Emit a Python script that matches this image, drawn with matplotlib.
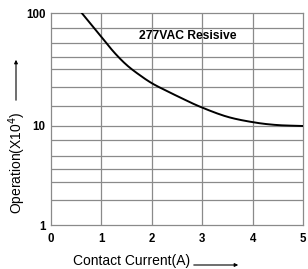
import numpy as np
import matplotlib
matplotlib.use("Agg")
import matplotlib.pyplot as plt
from matplotlib.patches import FancyArrowPatch
from matplotlib.ticker import FixedLocator, NullFormatter

plt.rcParams['font.family'] = ['Liberation Sans', 'DejaVu Sans']

# Curve (current in A, operations x10^4)
current = [0.61, 0.97, 1.24, 1.50, 1.77, 2.03, 2.36, 2.56, 2.96, 3.49, 4.01, 4.48, 5.0]
operations = [100, 63.9, 45.5, 34.7, 28.0, 23.5, 19.8, 17.9, 14.8, 12.1, 10.8, 10.2, 10.0]

x_ticks = [0, 1, 2, 3, 4, 5]
y_ticks = [1, 10, 100]
y_tick_labels = ["1", "10", "100"]
# horizontal grid lines of the scanned chart (not evenly log spaced)
y_grid = [1.8, 2.7, 3.7, 5.0, 7.2, 15, 22, 32, 41, 54, 74]

# the drawn upper decade is a bit taller than the lower one
STRETCH = 113 / 99


def fwd(y):
    t = np.log10(np.maximum(y, 1e-10))
    return np.where(t >= 1, 1 + (t - 1) * STRETCH, t)


def inv(u):
    u = np.asarray(u, dtype=float)
    return np.where(u >= 1, 10 ** (1 + (u - 1) / STRETCH), 10 ** u)


def catmull_rom(px, py, n=20):
    # smooth curve through the read points
    px = np.asarray(px, float)
    py = np.asarray(py, float)
    px = np.concatenate([[2 * px[0] - px[1]], px, [2 * px[-1] - px[-2]]])
    py = np.concatenate([[2 * py[0] - py[1]], py, [2 * py[-1] - py[-2]]])
    out_x, out_y = [], []
    t = np.linspace(0, 1, n, endpoint=False)
    for i in range(1, len(px) - 2):
        for arr, out in ((px, out_x), (py, out_y)):
            p0, p1, p2, p3 = arr[i - 1:i + 3]
            out.extend(0.5 * (2 * p1 + (-p0 + p2) * t
                              + (2 * p0 - 5 * p1 + 4 * p2 - p3) * t ** 2
                              + (-p0 + 3 * p1 - 3 * p2 + p3) * t ** 3))
    out_x.append(px[-2])
    out_y.append(py[-2])
    return np.array(out_x), np.array(out_y)


fig = plt.figure(figsize=(3.08, 2.69), dpi=100)
ax = fig.add_axes([51 / 308, 1 - 225 / 269, 252 / 308, 212 / 269])

ax.set_yscale('function', functions=(fwd, inv))
ax.set_xlim(0, 5)
ax.set_ylim(1, 100)

grid_kw = dict(color='#8a8a8a', lw=0.9, zorder=1)
for x in x_ticks[1:-1]:
    ax.axvline(x, **grid_kw)
for y in y_grid + [10]:
    ax.axhline(y, **grid_kw)

for s in ax.spines.values():
    s.set_color('#8a8a8a')
    s.set_linewidth(0.9)

xs, ly = catmull_rom(current, np.log10(operations))
ax.plot(xs, 10 ** ly, color='black', lw=1.4, zorder=3)

ax.set_xticks(x_ticks)
ax.set_xticklabels([str(v) for v in x_ticks], fontsize=8.3, fontweight='bold')
ax.yaxis.set_major_locator(FixedLocator(y_ticks))
ax.yaxis.set_minor_locator(FixedLocator([]))
ax.yaxis.set_minor_formatter(NullFormatter())
ax.set_yticklabels(y_tick_labels, fontsize=8.3, fontweight='bold')
ax.tick_params(axis='both', length=0)
ax.tick_params(axis='y', pad=4)
ax.tick_params(axis='x', pad=6)

ax.text(1.75, 62, "277VAC Resisive", fontsize=8.7, fontweight='bold',
        va='center', ha='left', zorder=4)

fig.text(17 / 308, 1 - 163 / 269, "Operation(X10$^4$)", rotation=90,
         ha='center', va='center', fontsize=10)
fig.text(73 / 308, 1 - 261 / 269, "Contact Current(A)", ha='left',
         va='center', fontsize=10)

arrow = dict(arrowstyle='-|>', color='black', lw=0.8, mutation_scale=5)
fig.add_artist(FancyArrowPatch((16 / 308, 1 - 103 / 269), (16 / 308, 1 - 57 / 269),
                               transform=fig.transFigure, **arrow))
fig.add_artist(FancyArrowPatch((191 / 308, 1 - 265 / 269), (241 / 308, 1 - 265 / 269),
                               transform=fig.transFigure, **arrow))

fig.savefig("out.png", dpi=100)
